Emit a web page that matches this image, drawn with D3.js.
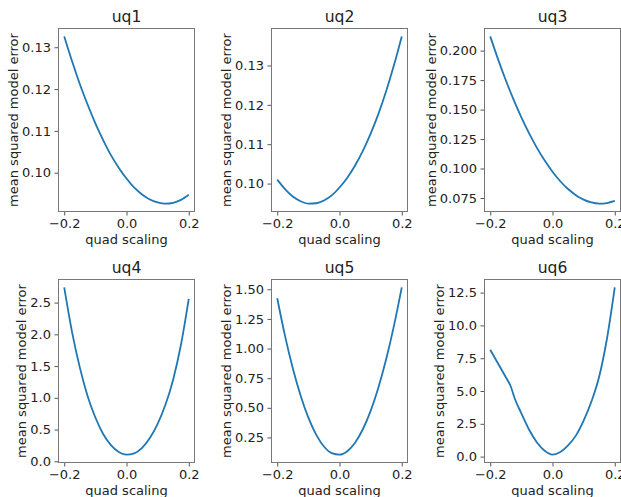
<!DOCTYPE html>
<html>
<head>
<meta charset="utf-8">
<script src="https://cdn.jsdelivr.net/npm/d3@7"></script>
<style>
  body { margin: 0; background: #fff; }
  svg text { font-family: "DejaVu Sans", sans-serif; fill: #222; }
</style>
</head>
<body>
<div id="chart"></div>
<script>
// quad scaling values (x) shared by uq1..uq5
const quadScaling = [-0.2, -0.175, -0.15, -0.125, -0.1, -0.075, -0.05, -0.025, 0,
                     0.025, 0.05, 0.075, 0.1, 0.125, 0.15, 0.175, 0.2];

const uq1 = [0.1326, 0.1267, 0.1212, 0.1163, 0.1118, 0.1078, 0.1042, 0.1012, 0.0986,
             0.0964, 0.0948, 0.0936, 0.0929, 0.0926, 0.0928, 0.0935, 0.0947];
const uq2 = [0.1010, 0.0986, 0.0967, 0.0955, 0.0949, 0.0950, 0.0957, 0.0970, 0.0990,
             0.1015, 0.1046, 0.1083, 0.1127, 0.1177, 0.1235, 0.1301, 0.1374];
const uq3 = [0.2121, 0.1928, 0.1749, 0.1585, 0.1434, 0.1298, 0.1175, 0.1067, 0.0973,
             0.0892, 0.0826, 0.0774, 0.0736, 0.0712, 0.0702, 0.0707, 0.0725];
const uq4 = [2.74, 2.04, 1.48, 1.03, 0.69, 0.43, 0.254, 0.147, 0.105,
             0.126, 0.212, 0.367, 0.59, 0.89, 1.29, 1.84, 2.56];
const uq5 = [1.424, 1.107, 0.834, 0.604, 0.417, 0.274, 0.174, 0.118, 0.105,
             0.134, 0.206, 0.319, 0.474, 0.672, 0.911, 1.193, 1.516];

// uq6 has a small kink near -0.12, so it gets a few extra samples
const uq6Scaling = [-0.2, -0.175, -0.15, -0.135, -0.12, -0.1, -0.075, -0.05, -0.025, 0,
                    0.025, 0.05, 0.075, 0.1, 0.125, 0.15, 0.175, 0.2];
const uq6 = [8.14, 7.1, 6.05, 5.4, 4.35, 3.3, 2.05, 1.08, 0.45, 0.15,
             0.35, 0.85, 1.6, 2.75, 4.2, 6.1, 9.0, 12.9];

// tick labels
const xTicks = [-0.2, 0.0, 0.2];
const uq1Ticks = [0.10, 0.11, 0.12, 0.13];
const uq2Ticks = [0.10, 0.11, 0.12, 0.13];
const uq3Ticks = [0.075, 0.100, 0.125, 0.150, 0.175, 0.200];
const uq4Ticks = [0.0, 0.5, 1.0, 1.5, 2.0, 2.5];
const uq5Ticks = [0.25, 0.50, 0.75, 1.00, 1.25, 1.50];
const uq6Ticks = [0.0, 2.5, 5.0, 7.5, 10.0, 12.5];

const panels = [
  { name: "uq1", xs: quadScaling, ys: uq1, ticks: uq1Ticks, fmt: ".2f" },
  { name: "uq2", xs: quadScaling, ys: uq2, ticks: uq2Ticks, fmt: ".2f" },
  { name: "uq3", xs: quadScaling, ys: uq3, ticks: uq3Ticks, fmt: ".3f" },
  { name: "uq4", xs: quadScaling, ys: uq4, ticks: uq4Ticks, fmt: ".1f" },
  { name: "uq5", xs: quadScaling, ys: uq5, ticks: uq5Ticks, fmt: ".2f" },
  { name: "uq6", xs: uq6Scaling, ys: uq6, ticks: uq6Ticks, fmt: ".1f" }
];

// Layout of the 2x3 grid
const lefts = [58, 271, 484];
const tops = [28, 279];
const width = 137;
const height = 184;

const svg = d3.select("#chart")
  .append("svg")
  .attr("width", 621)
  .attr("height", 497);

// add 5% padding like matplotlib autoscaling
function padded(ext) {
  const p = (ext[1] - ext[0]) * 0.05;
  return [ext[0] - p, ext[1] + p];
}

panels.forEach((p, i) => {
  const col = i % 3, row = Math.floor(i / 3);
  const g = svg.append("g")
    .attr("transform", "translate(" + lefts[col] + "," + tops[row] + ")");

  const points = p.xs.map((x, k) => ({ x: x, y: p.ys[k] }));

  const xScale = d3.scaleLinear()
    .domain(padded(d3.extent(p.xs)))
    .range([0, width]);
  const yScale = d3.scaleLinear()
    .domain(padded(d3.extent(p.ys)))
    .range([height, 0]);

  const xAxis = d3.axisBottom(xScale)
    .tickValues(xTicks)
    .tickFormat(d3.format(".1f"))
    .tickSize(3.5)
    .tickPadding(3);
  const yAxis = d3.axisLeft(yScale)
    .tickValues(p.ticks)
    .tickFormat(d3.format(p.fmt))
    .tickSize(3.5)
    .tickPadding(3.5);

  const gx = g.append("g")
    .attr("transform", "translate(0," + height + ")")
    .call(xAxis);
  const gy = g.append("g").call(yAxis);

  [gx, gy].forEach(a => {
    a.select(".domain").remove();
    a.selectAll("line").attr("stroke", "#555");
    a.selectAll("text")
      .style("font-size", "13px")
      .attr("fill", "#222");
  });

  // line
  const line = d3.line()
    .x(d => xScale(d.x))
    .y(d => yScale(d.y))
    .curve(d3.curveMonotoneX);

  g.append("path")
    .datum(points)
    .attr("fill", "none")
    .attr("stroke", "#1f77b4")
    .attr("stroke-width", 1.8)
    .attr("d", line);

  // axes frame
  g.append("rect")
    .attr("x", 0.5)
    .attr("y", 0.5)
    .attr("width", width - 1)
    .attr("height", height - 1)
    .attr("fill", "none")
    .attr("stroke", "#777")
    .attr("stroke-width", 1);

  // title
  g.append("text")
    .attr("x", width / 2)
    .attr("y", -6)
    .attr("text-anchor", "middle")
    .style("font-size", "15.6px")
    .text(p.name);

  // x label
  g.append("text")
    .attr("x", width / 2)
    .attr("y", height + 32)
    .attr("text-anchor", "middle")
    .style("font-size", "13px")
    .text("quad scaling");

  // y label placed left of the tick labels
  const bb = gy.node().getBBox();
  g.append("text")
    .attr("transform", "translate(" + (bb.x - 4) + "," + (height / 2) + ") rotate(-90)")
    .attr("text-anchor", "middle")
    .style("font-size", "13px")
    .text("mean squared model error");
});
</script>
</body>
</html>
